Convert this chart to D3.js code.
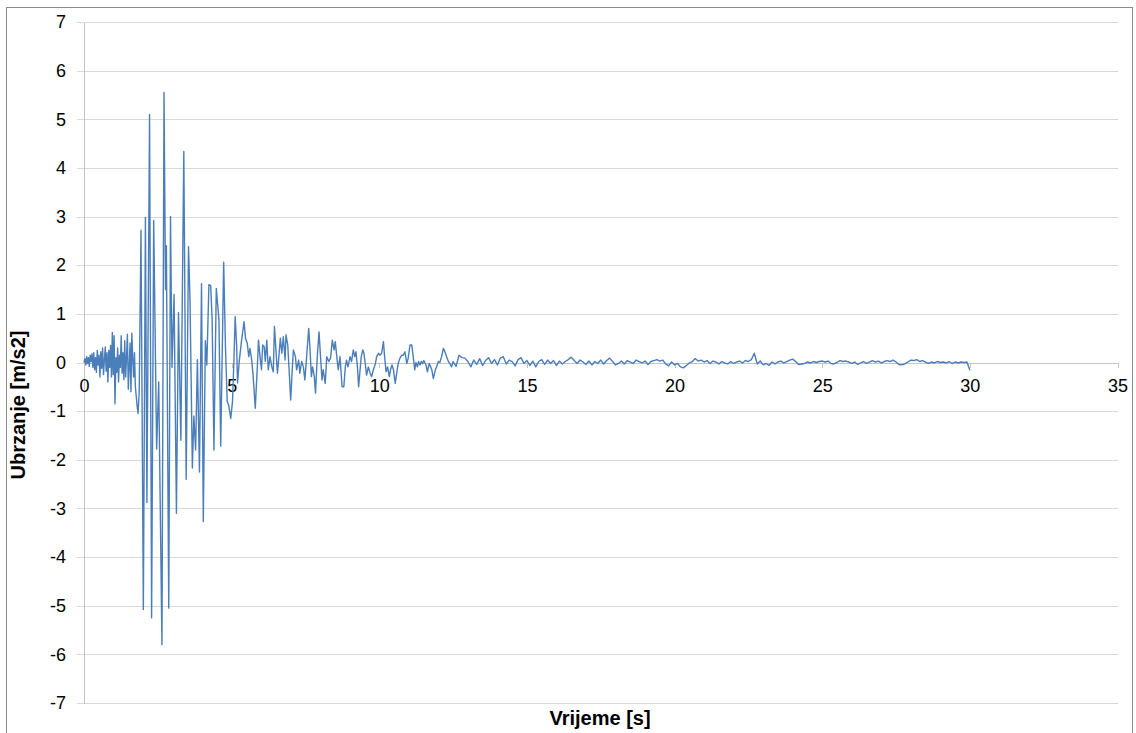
<!DOCTYPE html>
<html><head><meta charset="utf-8">
<script src="https://cdn.jsdelivr.net/npm/d3@7"></script>
<style>
html,body{margin:0;padding:0;background:#fff;}
svg{display:block;font-family:"Liberation Sans",Arial,sans-serif;}
</style></head><body>
<svg id="chart" width="1136" height="733"></svg>
<script>
// ---- data ----
const xTicks = [0, 5, 10, 15, 20, 25, 30, 35];
const yTicks = [-7, -6, -5, -4, -3, -2, -1, 0, 1, 2, 3, 4, 5, 6, 7];
const xTitle = "Vrijeme [s]";
const yTitle = "Ubrzanje [m/s2]";

// 0 – 12.45 s, read point by point (time [s])
const tStrong = [
0.00,0.03,0.06,0.09,0.12,0.15,0.18,0.21,0.24,0.27,0.30,0.33,0.36,0.39,0.42,0.45,0.48,0.51,0.54,0.57,
0.60,0.63,0.66,0.69,0.72,0.75,0.78,0.81,0.84,0.87,0.90,0.93,0.96,0.99,1.02,1.05,1.08,1.11,1.14,1.17,
1.20,1.23,1.26,1.29,1.32,1.35,1.38,1.41,1.44,1.47,1.50,1.53,1.56,1.59,1.62,1.65,1.68,1.71,1.74,1.77,
1.80,1.83,1.87,1.93,2.01,2.08,2.13,2.22,2.29,2.36,2.46,2.53,2.64,2.71,2.76,2.79,2.87,2.93,2.98,3.05,
3.13,3.20,3.28,3.38,3.46,3.54,3.59,3.67,3.72,3.78,3.84,3.91,3.98,4.04,4.11,4.16,4.23,4.29,4.34,4.40,
4.48,4.57,4.63,4.73,4.79,4.85,4.90,4.97,5.03,5.08,5.12,5.17,5.20,5.26,5.33,5.42,5.47,5.53,5.58,5.62,
5.68,5.73,5.80,5.87,5.91,5.96,6.01,6.05,6.10,6.14,6.19,6.24,6.30,6.36,6.41,6.45,6.50,6.55,6.59,6.65,
6.70,6.75,6.81,6.84,6.90,6.94,7.00,7.04,7.09,7.16,7.20,7.27,7.31,7.37,7.43,7.48,7.54,7.61,7.65,7.70,
7.74,7.80,7.84,7.90,7.96,8.01,8.06,8.10,8.17,8.22,8.29,8.35,8.41,8.47,8.51,8.56,8.61,8.67,8.74,8.80,
8.85,8.89,8.94,9.01,9.06,9.12,9.17,9.21,9.26,9.30,9.35,9.39,9.44,9.48,9.53,9.57,9.63,9.69,9.74,9.80,
9.87,9.91,9.97,10.02,10.08,10.14,10.18,10.23,10.28,10.34,10.38,10.43,10.48,10.54,10.59,10.64,10.70,10.76,10.81,10.87,
10.93,10.98,11.04,11.10,11.15,11.20,11.24,11.29,11.33,11.38,11.42,11.47,11.51,11.58,11.63,11.69,11.74,11.78,11.83,11.90,
11.94,12.00,12.05,12.11,12.17,12.22,12.28,12.34,12.39,12.45
];
// acceleration [m/s2] at tStrong
const aStrong = [
0.00,0.08,-0.05,0.12,-0.02,0.10,-0.08,0.15,0.02,0.18,-0.10,0.20,-0.15,0.10,-0.20,0.25,-0.05,0.15,-0.30,0.22,
-0.12,0.30,-0.25,0.05,0.32,-0.18,0.20,-0.40,0.25,-0.10,0.35,-0.30,0.62,-0.25,0.55,-0.85,0.10,-0.20,0.30,-0.40,
0.15,-0.10,0.55,-0.22,0.20,-0.35,0.45,-0.30,0.10,0.58,-0.55,-0.10,0.40,-0.60,0.60,0.10,-0.30,0.20,-0.50,-0.70,
-0.90,-1.05,-0.60,2.72,-5.08,2.98,-2.88,5.10,-5.25,2.92,-1.78,-0.40,-5.80,5.55,1.50,2.40,-5.05,3.00,-0.10,1.40,
-3.10,1.03,-1.60,4.34,-2.40,2.38,1.30,-2.17,-1.10,-1.80,0.06,-2.25,1.62,-3.27,0.45,-0.05,1.60,1.58,0.88,-1.80,
1.52,0.88,-1.72,2.06,0.34,-0.80,-0.88,-1.15,-0.80,0.11,0.94,0.34,-0.42,0.04,0.42,0.84,0.50,0.39,0.12,0.29,
0.05,-0.29,-0.94,-0.09,0.46,0.12,-0.15,0.36,0.33,0.02,0.46,-0.15,0.12,-0.09,-0.19,0.74,0.26,-0.22,0.05,0.50,
0.19,0.53,0.05,0.57,0.36,-0.09,-0.77,-0.29,0.26,0.12,-0.15,0.05,-0.22,0.02,-0.09,-0.36,0.12,0.70,0.33,-0.29,
-0.09,-0.29,-0.63,0.12,0.63,0.12,-0.36,-0.15,-0.43,0.12,0.02,0.09,0.46,0.26,0.43,0.12,-0.15,0.12,-0.50,-0.50,
-0.09,0.05,-0.09,0.12,0.02,0.26,0.12,0.22,-0.09,-0.50,-0.15,0.12,0.26,0.19,-0.05,-0.26,-0.09,-0.22,-0.29,-0.15,
-0.02,0.12,0.19,0.15,0.19,0.43,0.12,-0.19,-0.09,-0.29,-0.15,-0.05,-0.15,-0.43,-0.22,-0.02,0.09,0.15,0.15,0.22,
-0.02,0.09,0.36,0.36,0.12,-0.15,0.00,-0.09,0.02,-0.05,0.02,-0.02,0.04,-0.05,-0.19,-0.02,-0.09,-0.15,-0.33,-0.15,
-0.09,0.02,0.00,0.12,0.29,0.22,0.12,0.02,-0.02,-0.09
];

// 12.5 – 30.0 s, sampled every 0.1 s
const tailStart = 12.5;
const tailStep = 0.1;
const aTail = [
.02,-.08,.15,.10,.09,.02,-.09,.05,-.04,.08,
-.06,.04,.10,-.02,.06,-.05,.09,.12,-.03,.05,
.02,-.07,.06,.10,-.02,.04,-.06,.03,-.09,.02,
.06,-.04,.05,-.02,.04,-.06,.03,-.03,.02,.06,
.11,.04,-.02,.05,.01,-.04,.03,-.05,.02,-.02,
.05,-.03,.04,.09,.02,-.05,-.02,.03,-.03,.04,
.01,-.02,.05,.02,-.01,.03,-.04,.02,.04,.06,
.03,.05,-.03,-.07,.01,-.05,-.02,-.09,-.11,-.06,
-.01,.02,.08,.03,.05,.01,.04,-.02,.03,.01,
-.03,.02,-.01,-.03,.02,-.02,.01,.03,-.01,.04,
.02,.06,.19,-.03,.03,-.05,-.02,-.06,.01,-.03,
.01,.03,-.01,.02,.05,.07,.02,-.04,-.03,-.02,
.01,-.01,.02,0,.02,.03,.01,.03,-.02,-.03,
0,.04,.02,.03,.01,-.02,.01,-.04,-.01,.02,
-.02,.01,.04,.01,.03,-.01,.02,.04,.02,.05,
.01,-.04,-.05,-.03,.01,.05,.04,.06,.02,.04,
.01,-.02,.01,-.01,.02,0,.01,-.01,.02,-.02,
.01,-.01,.01,0,.01,-.16
];

// ---- build series ----
const series = tStrong.map((t, i) => ({ t: t, a: aStrong[i] }))
  .concat(aTail.map((a, i) => ({ t: +(tailStart + i * tailStep).toFixed(2), a: a })));

// ---- layout ----
const svg = d3.select("#chart");
const x = d3.scaleLinear().domain([0, 35]).range([84, 1117.5]);
const y = d3.scaleLinear().domain([-7, 7]).range([703, 22]);
const fmt = d => String(d);

// outer frame
svg.append("rect").attr("x", 6.5).attr("y", 7.5).attr("width", 1126).attr("height", 780)
  .attr("fill", "#fff").attr("stroke", "#8c8c8c").attr("stroke-width", 1);

// horizontal gridlines
const grid = svg.append("g").attr("transform", "translate(84,0)")
  .call(d3.axisLeft(y).tickValues(yTicks).tickSizeInner(-(1117.5 - 84)).tickSizeOuter(0).tickFormat(""));
grid.select(".domain").remove();
grid.selectAll("line").attr("stroke", "#d9d9d9").attr("shape-rendering", "crispEdges");

// y axis (ticks outward + labels)
const yAx = svg.append("g").attr("transform", "translate(84,0)")
  .call(d3.axisLeft(y).tickValues(yTicks).tickSize(7).tickSizeOuter(0).tickPadding(11).tickFormat(fmt));
yAx.select(".domain").attr("stroke", "#c4c4c4").attr("shape-rendering", "crispEdges");
yAx.selectAll("line").attr("stroke", "#d9d9d9").attr("shape-rendering", "crispEdges");
yAx.selectAll("text").attr("font-size", 18).attr("fill", "#000")
  .attr("font-family", "'Liberation Sans', Arial, sans-serif");

// x axis at y = 0
const xAx = svg.append("g").attr("transform", `translate(0,${y(0)})`)
  .call(d3.axisBottom(x).tickValues(xTicks).tickSize(5).tickSizeOuter(0).tickPadding(12).tickFormat(fmt));
xAx.select(".domain").attr("stroke", "#c4c4c4").attr("shape-rendering", "crispEdges");
xAx.selectAll("line").attr("stroke", "#c4c4c4").attr("shape-rendering", "crispEdges");
xAx.selectAll("text").attr("font-size", 18).attr("fill", "#000")
  .attr("font-family", "'Liberation Sans', Arial, sans-serif");

// data line
const line = d3.line().x(d => x(d.t)).y(d => y(d.a));
svg.append("path").datum(series)
  .attr("d", line)
  .attr("fill", "none")
  .attr("stroke", "#4a7ebb")
  .attr("stroke-width", 1.4)
  .attr("stroke-linejoin", "round");

// axis titles
svg.append("text").text(xTitle)
  .attr("x", 600).attr("y", 725)
  .attr("text-anchor", "middle").attr("font-size", 20).attr("font-weight", "bold").attr("fill", "#000");
svg.append("text").text(yTitle)
  .attr("transform", "translate(25,405) rotate(-90)")
  .attr("text-anchor", "middle").attr("font-size", 20).attr("font-weight", "bold").attr("fill", "#000");
</script>
</body></html>
